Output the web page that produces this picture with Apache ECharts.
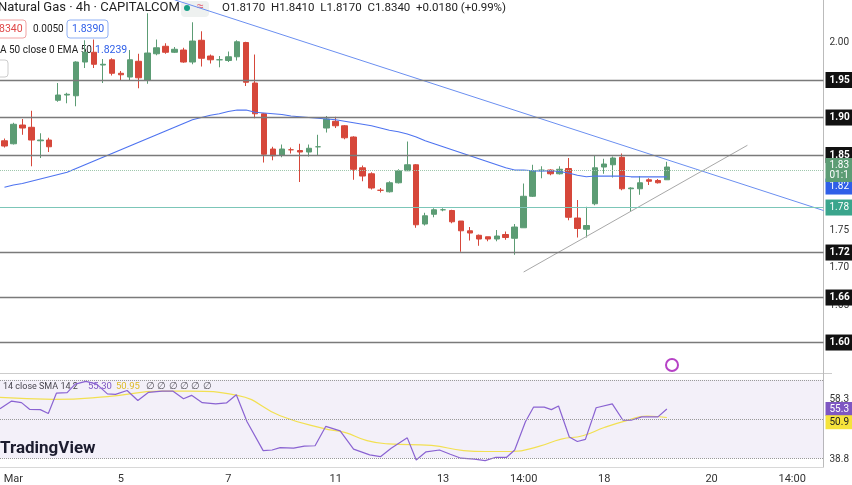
<!DOCTYPE html>
<html><head><meta charset="utf-8">
<script src="https://cdn.jsdelivr.net/npm/echarts@6/dist/echarts.min.js"></script>
<style>html,body{margin:0;padding:0;background:#fff}#c{width:852px;height:485px}</style>
</head><body><div id="c"></div>
<script>
// OHLC per 4h candle
const opens  = [1.869,1.865,1.890,1.887,1.869,1.870,1.923,1.930,1.929,1.974,1.987,1.970,1.977,1.959,1.954,1.975,1.950,1.985,1.995,1.987,1.990,1.974,2.003,1.982,1.977,1.976,1.981,2.000,1.946,1.905,1.858,1.850,1.857,1.856,1.854,1.861,1.886,1.895,1.889,1.874,1.833,1.825,1.803,1.801,1.813,1.829,1.837,1.758,1.771,1.777,1.776,1.762,1.749,1.743,1.741,1.738,1.744,1.739,1.753,1.795,1.829,1.830,1.825,1.832,1.766,1.751,1.785,1.834,1.837,1.847,1.805,1.805,1.817,1.816,1.817];
const closes = [1.862,1.891,1.886,1.870,1.870,1.861,1.930,1.931,1.974,1.987,1.971,1.971,1.959,1.957,1.977,1.953,1.986,1.993,1.987,1.991,1.974,2.002,1.979,1.977,1.977,1.981,2.001,1.947,1.905,1.851,1.849,1.858,1.857,1.854,1.859,1.861,1.898,1.889,1.873,1.831,1.822,1.806,1.803,1.813,1.829,1.837,1.757,1.769,1.777,1.777,1.761,1.749,1.746,1.738,1.738,1.742,1.740,1.754,1.795,1.829,1.830,1.825,1.831,1.767,1.752,1.756,1.833,1.838,1.846,1.805,1.806,1.813,1.815,1.813,1.834];
const lows   = [1.860,1.864,1.877,1.835,1.846,1.854,1.921,1.919,1.915,1.966,1.966,1.946,1.956,1.950,1.950,1.939,1.945,1.983,1.985,1.986,1.973,1.971,1.968,1.972,1.967,1.974,1.976,1.942,1.899,1.840,1.843,1.847,1.852,1.814,1.848,1.850,1.880,1.886,1.871,1.817,1.815,1.804,1.800,1.800,1.812,1.829,1.753,1.756,1.767,1.775,1.759,1.721,1.736,1.729,1.735,1.735,1.737,1.717,1.753,1.794,1.819,1.823,1.824,1.763,1.740,1.740,1.783,1.825,1.820,1.803,1.775,1.797,1.810,1.812,1.817];
const highs  = [1.872,1.893,1.898,1.909,1.879,1.873,1.946,1.933,1.975,2.003,2.004,1.978,1.979,1.962,1.990,1.985,2.039,2.004,1.999,1.994,1.993,2.027,2.015,1.984,1.982,1.988,2.003,2.001,1.984,1.906,1.861,1.864,1.860,1.865,1.864,1.877,1.902,1.901,1.890,1.875,1.836,1.827,1.806,1.815,1.831,1.868,1.838,1.773,1.779,1.779,1.777,1.762,1.754,1.744,1.741,1.750,1.748,1.758,1.812,1.837,1.835,1.831,1.835,1.846,1.790,1.781,1.849,1.845,1.848,1.852,1.807,1.822,1.819,1.818,1.841];
const ema50  = [1.807,1.810,1.812,1.815,1.818,1.821,1.824,1.827,1.832,1.837,1.842,1.847,1.852,1.857,1.862,1.867,1.872,1.877,1.882,1.887,1.892,1.897,1.900,1.903,1.905,1.908,1.910,1.910,1.907,1.906,1.905,1.904,1.902,1.901,1.900,1.899,1.898,1.897,1.895,1.893,1.891,1.889,1.886,1.883,1.881,1.878,1.874,1.869,1.865,1.861,1.857,1.853,1.849,1.845,1.841,1.837,1.833,1.830,1.830,1.829,1.829,1.829,1.828,1.826,1.823,1.821,1.822,1.822,1.822,1.822,1.821,1.821,1.821,1.821,1.821];
// RSI(14) readings [candle index, value]
const rsiPts = [[-0.5,55.4],[0.8,57.9],[1.9,57.4],[2.8,55.2],[4,55.1],[4.9,53.8],[5.8,60.5],[7,60.7],[7.9,63.5],[9.1,64.4],[10.3,63.5],[11.5,60.3],[12.4,60.1],[13.7,61.4],[14.9,58.1],[16.1,60.8],[17.6,61.2],[18.8,61.2],[20,58.7],[20.9,59.8],[22.1,57.4],[23.6,57.0],[24.8,57.3],[25.9,60.0],[27.1,51.1],[28.9,41.6],[29.9,41.8],[30.8,42.6],[32.3,42.4],[33.5,43.1],[34.7,43.2],[35.9,49.6],[37.5,48.1],[39,42.1],[40.8,40.2],[42,39.6],[43.2,42.4],[45,45.8],[46,38.5],[47.1,41.2],[48.6,41.8],[49.8,40.4],[51,39.1],[52.5,38.8],[53.7,38.3],[54.9,39.4],[56.1,39.4],[57,41.8],[58.2,51.1],[59.1,55.9],[60.3,55.9],[61.1,55.1],[61.9,56.3],[63.1,46.1],[64,44.6],[64.9,45.3],[66.1,55.7],[67.9,57.0],[69.1,51.6],[70,51.6],[71.2,52.7],[73,52.7],[74,55.3]];
const smaPts = [[-0.5,59.1],[5.5,58.5],[11.5,59.4],[17.6,61.2],[20.6,61.2],[26,59.8],[30.8,53.1],[35.6,48.9],[38,47.6],[40.5,44.9],[42.9,43.8],[47.7,43.3],[51.3,41.6],[53.7,41.3],[56.7,41.3],[59.7,43.0],[62.2,45.4],[64.6,46.5],[67,49.2],[69.4,51.4],[71.8,53.0],[74,52.5]];
const resistanceLine = [[19,2.057],[91.5,1.776]];
const supportLine = [[58,1.694],[83,1.863]];
const dateLabels = {1:'Mar',13:'5',25:'7',37:'11',49:'13',58:'14:00',67:'18',79:'20',88:'14:00'};
const levels = [1.95,1.90,1.85,1.72,1.66,1.605];
const levelLabels = ['1.95','1.90','1.85','1.72','1.66','1.60'];
const supportLevel = 1.78;
const N = 92;

const cats = Array.from({length:N},(_,i)=>String(i));
const dateCats = Array.from({length:N},(_,i)=>dateLabels[i]||'');
const ohlc = opens.map((o,i)=>[o,closes[i],lows[i],highs[i]]);
const font = 'Roboto';
const hidden = {color:'rgba(0,0,0,0)',width:0};
const chart = echarts.init(document.getElementById('c'));
chart.setOption({
  animation:false,
  backgroundColor:'#fff',
  textStyle:{fontFamily:font},
  grid:[{left:0,right:20,top:0,height:375},{left:0,right:20,top:375,height:93}],
  xAxis:[
    {type:'category',gridIndex:0,data:cats,axisLine:{show:false},axisTick:{show:false},axisLabel:{show:false},splitLine:{show:false}},
    {type:'category',gridIndex:1,data:dateCats,axisLine:{lineStyle:{color:'#d8d8d8'}},axisTick:{show:false},
      axisLabel:{interval:0,color:'#333',fontSize:11,margin:7},splitLine:{show:false}},
    {type:'value',gridIndex:1,min:-0.5,max:N-0.5,show:false},
    {type:'value',gridIndex:0,min:-0.5,max:N-0.5,show:false}
  ],
  yAxis:[
    {type:'value',gridIndex:0,position:'right',min:1.5567,max:2.0567,splitLine:{show:false},
      axisLine:{show:true,onZero:false,lineStyle:{color:'#bbb'}},axisTick:{show:false},
      axisLabel:{customValues:[1.65,1.70,1.75,2.00],formatter:v=>v.toFixed(2),color:'#333',fontSize:10,margin:6}},
    {type:'value',gridIndex:1,position:'right',min:36.2,max:66.5,splitLine:{show:false},
      axisLine:{show:true,onZero:false,lineStyle:{color:'#bbb'}},axisTick:{show:false},
      axisLabel:{customValues:[58.3,38.8],formatter:v=>v.toFixed(1),color:'#333',fontSize:10,margin:6}}
  ],
  series:[
    {type:'candlestick',xAxisIndex:0,yAxisIndex:0,data:ohlc,barWidth:6,
      itemStyle:{color:'#5c9c74',color0:'#d6473a',borderColor:'#5c9c74',borderColor0:'#d6473a',borderWidth:1},
      markLine:{symbol:'none',silent:true,animation:false,
        data:[
          ...levels.map((v,k)=>({yAxis:v,lineStyle:{color:'#7a7a7a',width:1.3,type:'solid'},
            label:{show:true,position:'end',formatter:levelLabels[k],backgroundColor:'#111',color:'#fff',fontWeight:'bold',fontSize:10,padding:[3,4],distance:2}})),
          {yAxis:supportLevel,lineStyle:{color:'#7cc6b8',width:1.2,type:'solid'},
            label:{show:true,position:'end',formatter:'1.78',backgroundColor:'#3aa58c',color:'#fff',fontSize:10,padding:[3,4],distance:2}},
          {yAxis:1.8239,lineStyle:hidden,
            label:{show:true,position:'end',formatter:'1.82',backgroundColor:'#2f5fe8',color:'#fff',fontSize:10,padding:[3,4],distance:2,offset:[0,9]}},
          {yAxis:1.834,lineStyle:{color:'#9fc7ad',width:1,type:'dotted'},
            label:{show:true,position:'end',formatter:'1.83\n01:1',backgroundColor:'#5c9c74',color:'#fff',fontSize:10,padding:[2,4],distance:2}}
        ]}},
    {type:'line',xAxisIndex:0,yAxisIndex:0,data:ema50,symbol:'none',lineStyle:{color:'#4f74f0',width:1.2}},
    {type:'line',xAxisIndex:3,yAxisIndex:0,data:resistanceLine,symbol:'none',lineStyle:{color:'#6b8ff0',width:1}},
    {type:'line',xAxisIndex:3,yAxisIndex:0,data:supportLine,symbol:'none',lineStyle:{color:'#a8a8a8',width:1}},
    {type:'line',xAxisIndex:2,yAxisIndex:1,data:smaPts,symbol:'none',smooth:true,lineStyle:{color:'#f2e052',width:1.2}},
    {type:'line',xAxisIndex:2,yAxisIndex:1,data:rsiPts,symbol:'none',lineStyle:{color:'#8a63d2',width:1.2},
      markArea:{silent:true,itemStyle:{color:'rgba(126,87,194,0.09)'},data:[[{yAxis:39.0},{yAxis:64.9}]]},
      markLine:{symbol:'none',silent:true,data:[
        {yAxis:64.9,lineStyle:{color:'#999',type:'dotted',width:1},label:{show:false}},
        {yAxis:52.0,lineStyle:{color:'#999',type:'dotted',width:1},label:{show:false}},
        {yAxis:39.0,lineStyle:{color:'#999',type:'dotted',width:1},label:{show:false}},
        {yAxis:55.3,lineStyle:hidden,label:{show:true,position:'end',formatter:'55.3',backgroundColor:'#7e57c2',color:'#fff',fontSize:10,padding:[2,4],distance:2}},
        {yAxis:50.95,lineStyle:hidden,label:{show:true,position:'end',formatter:'50.9',backgroundColor:'#f5e33b',color:'#222',fontSize:10,padding:[2,4],distance:2}}
      ]}}
  ],
  graphic:[
    {type:'rect',shape:{x:0,y:373,width:832,height:1},style:{fill:'#ccc'}},
    {type:'text',left:-2,top:1,style:{text:'Natural Gas · 4h · CAPITALCOM',fontSize:13,fill:'#222',fontFamily:font}},
    {type:'rect',shape:{x:181,y:1,width:28,height:16,r:4},style:{fill:'#eef1f0'}},
    {type:'circle',shape:{cx:187,cy:8,r:3},style:{fill:'#17a085'}},
    {type:'text',left:197,top:1,style:{text:'≈',fontSize:12,fill:'#e0556a'}},
    {type:'text',left:222,top:2,style:{text:'O1.8170  H1.8410  L1.8170  C1.8340  +0.0180 (+0.99%)',fontSize:11.5,fill:'#222',fontFamily:font}},
    {type:'rect',shape:{x:-6,y:20,width:32,height:18,r:3},style:{fill:'#fff',stroke:'#f2a3a3'}},
    {type:'text',left:-1,top:24,style:{text:'8340',fontSize:10.5,fill:'#e04848',fontFamily:font}},
    {type:'text',left:33,top:24,style:{text:'0.0050',fontSize:10,fill:'#222',fontFamily:font}},
    {type:'rect',shape:{x:67,y:20,width:41,height:18,r:3},style:{fill:'#fff',stroke:'#8fb0f5'}},
    {type:'text',left:72,top:24,style:{text:'1.8390',fontSize:10.5,fill:'#2f5fe8',fontFamily:font}},
    {type:'text',left:0,top:45,style:{text:'A 50 close 0 EMA 50',fontSize:10,fill:'#222',fontFamily:font}},
    {type:'text',left:95,top:45,style:{text:'1.8239',fontSize:10.5,fill:'#2f5fe8',fontFamily:font}},
    {type:'rect',shape:{x:-6,y:60,width:14,height:17,r:3},style:{fill:'#fff',stroke:'#ccc'}},
    {type:'text',left:3,top:382,style:{text:'14 close SMA 14 2',fontSize:9,fill:'#444',fontFamily:font}},
    {type:'text',left:88,top:382,style:{text:'55.30',fontSize:9.5,fill:'#7e57c2',fontFamily:font}},
    {type:'text',left:116,top:382,style:{text:'50.95',fontSize:9.5,fill:'#e8c61a',fontFamily:font}},
    {type:'text',left:146,top:382,style:{text:'∅ ∅ ∅ ∅ ∅ ∅',fontSize:9.5,fill:'#555',fontFamily:font}},
    {type:'text',left:0,top:440,style:{text:'TradingView',fontSize:17,fontWeight:'bold',fill:'#131722',fontFamily:font}},
    {type:'circle',shape:{cx:672,cy:365,r:6},style:{fill:'#fff',stroke:'#b642c6',lineWidth:2}}
  ]
});
</script></body></html>
